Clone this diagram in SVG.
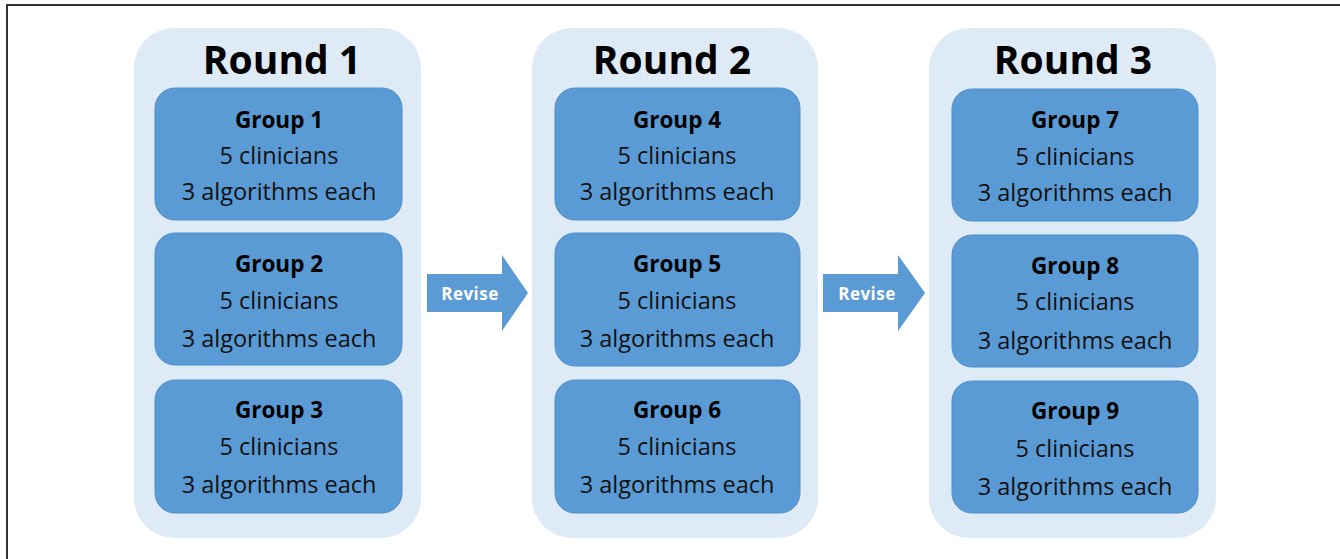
<svg xmlns="http://www.w3.org/2000/svg" width="1340" height="559" viewBox="0 0 1340 559">
<style>
.panel{fill:#DEEBF7}
.box{fill:#5B9BD5;stroke:#4F8FCC;stroke-width:1}
.round{font-family:"Open Sans",sans-serif;font-weight:bold;font-size:39px;fill:#000;text-anchor:middle}
.gt{font-family:"Open Sans",sans-serif;font-weight:bold;font-size:22.5px;fill:#000;text-anchor:middle}
.gl{font-family:"Open Sans",sans-serif;font-size:23.5px;fill:#111;text-anchor:middle}
.arrow{fill:#5B9BD5}
.rev{font-family:"Open Sans",sans-serif;font-weight:bold;font-size:17px;fill:#fff;text-anchor:middle;letter-spacing:0.5px}
</style>
<rect width="1340" height="559" fill="#fff"/>
<path d="M7,559 V5 H1340" fill="none" stroke="#333" stroke-width="2"/>

<g id="round1">
<rect class="panel" x="134" y="28" width="287" height="510" rx="40"/>
<text class="round" x="282" y="74">Round 1</text>
</g>
<g id="group1">
<rect class="box" x="155" y="88" width="247" height="132" rx="20"/>
<text class="gt" x="279" y="128">Group 1</text>
<text class="gl" x="279" y="164">5 clinicians</text>
<text class="gl" x="279" y="200">3 algorithms each</text>
</g>
<g id="group2">
<rect class="box" x="155" y="233" width="247" height="132" rx="20"/>
<text class="gt" x="279" y="272">Group 2</text>
<text class="gl" x="279" y="309">5 clinicians</text>
<text class="gl" x="279" y="347">3 algorithms each</text>
</g>
<g id="group3">
<rect class="box" x="155" y="380" width="247" height="133" rx="20"/>
<text class="gt" x="279" y="418">Group 3</text>
<text class="gl" x="279" y="455">5 clinicians</text>
<text class="gl" x="279" y="493">3 algorithms each</text>
</g>

<g id="round2">
<rect class="panel" x="532" y="28" width="286" height="510" rx="40"/>
<text class="round" x="672" y="74">Round 2</text>
</g>
<g id="group4">
<rect class="box" x="555" y="88" width="245" height="132" rx="20"/>
<text class="gt" x="677" y="128">Group 4</text>
<text class="gl" x="677" y="164">5 clinicians</text>
<text class="gl" x="677" y="200">3 algorithms each</text>
</g>
<g id="group5">
<rect class="box" x="555" y="233" width="245" height="133" rx="20"/>
<text class="gt" x="677" y="272">Group 5</text>
<text class="gl" x="677" y="309">5 clinicians</text>
<text class="gl" x="677" y="347">3 algorithms each</text>
</g>
<g id="group6">
<rect class="box" x="555" y="380" width="245" height="133" rx="20"/>
<text class="gt" x="677" y="418">Group 6</text>
<text class="gl" x="677" y="455">5 clinicians</text>
<text class="gl" x="677" y="493">3 algorithms each</text>
</g>

<g id="round3">
<rect class="panel" x="929" y="28" width="287" height="510" rx="40"/>
<text class="round" x="1073" y="74">Round 3</text>
</g>
<g id="group7">
<rect class="box" x="952" y="89" width="246" height="132" rx="20"/>
<text class="gt" x="1075" y="128">Group 7</text>
<text class="gl" x="1075" y="165">5 clinicians</text>
<text class="gl" x="1075" y="201">3 algorithms each</text>
</g>
<g id="group8">
<rect class="box" x="952" y="235" width="246" height="132" rx="20"/>
<text class="gt" x="1075" y="274">Group 8</text>
<text class="gl" x="1075" y="310">5 clinicians</text>
<text class="gl" x="1075" y="349">3 algorithms each</text>
</g>
<g id="group9">
<rect class="box" x="952" y="381" width="246" height="132" rx="20"/>
<text class="gt" x="1075" y="419">Group 9</text>
<text class="gl" x="1075" y="457">5 clinicians</text>
<text class="gl" x="1075" y="495">3 algorithms each</text>
</g>

<g id="connectors">
<path class="arrow" d="M427,274 H502 V255 L528,293 L502,331 V312 H427 Z"/>
<text class="rev" x="470" y="300">Revise</text>
<path class="arrow" d="M823,274 H898 V255 L925,293 L898,331 V312 H823 Z"/>
<text class="rev" x="867" y="300">Revise</text>
</g>
</svg>
